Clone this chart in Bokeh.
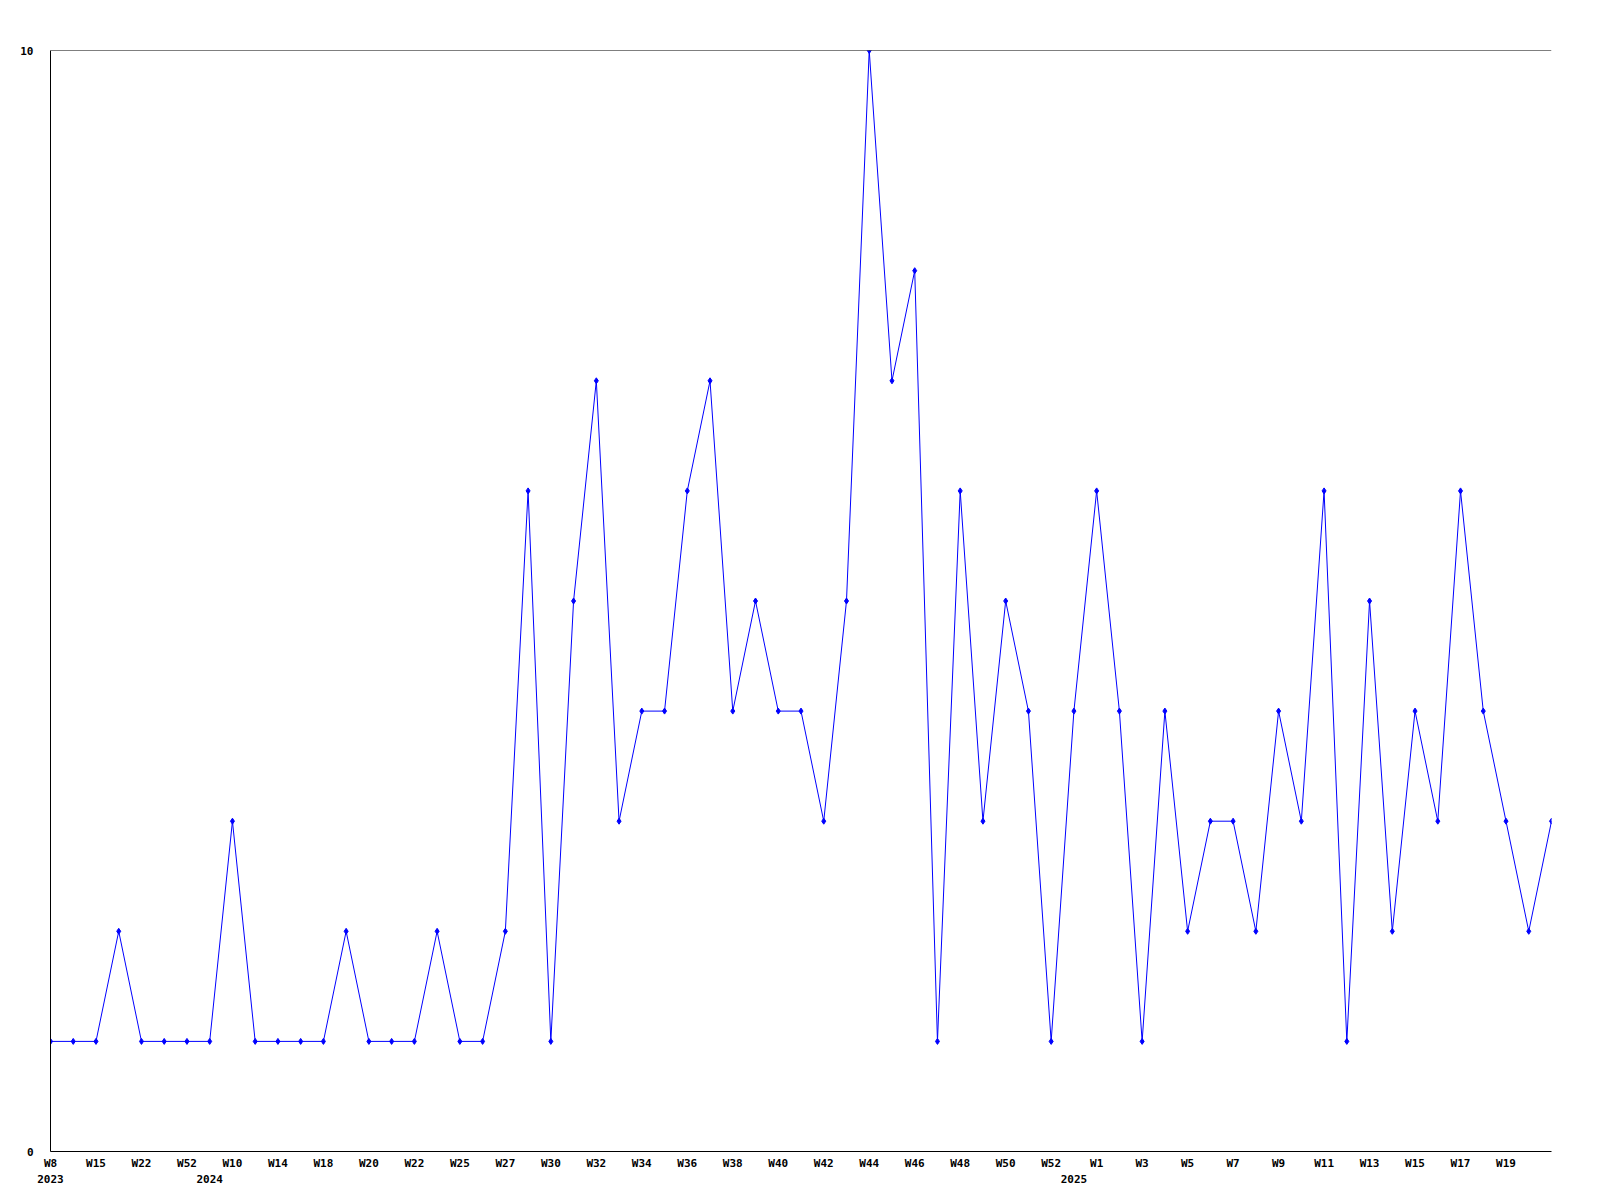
from bokeh.plotting import figure
from bokeh.models import FixedTicker, LinearAxis, Range1d, Span
from bokeh.embed import file_html
from bokeh.resources import INLINE

values = [1, 1, 1, 2, 1, 1, 1, 1, 3, 1, 1, 1, 1, 2, 1, 1, 1, 2, 1, 1,
          2, 6, 1, 5, 7, 3, 4, 4, 6, 7, 4, 5, 4, 4, 3, 5, 10, 7, 8, 1,
          6, 3, 5, 4, 1, 4, 6, 4, 1, 4, 2, 3, 3, 2, 4, 3, 6, 1, 5, 2,
          4, 3, 6, 4, 3, 2, 3]
week_labels = ["W8", "W15", "W22", "W52", "W10", "W14", "W18", "W20", "W22", "W25",
               "W27", "W30", "W32", "W34", "W36", "W38", "W40", "W42", "W44", "W46",
               "W48", "W50", "W52", "W1", "W3", "W5", "W7", "W9", "W11", "W13",
               "W15", "W17", "W19"]
week_label_idx = list(range(0, 66, 2))
year_labels = ["2023", "2024", "2025"]
year_idx = [0, 7, 45]
y_ticks = [0, 10]

x = list(range(len(values)))
FONT = "DejaVu Sans Mono"

p = figure(width=1592, height=1185, output_backend="svg", toolbar_location=None,
           x_range=Range1d(0, len(values) - 1), y_range=Range1d(0, 10),
           min_border_left=50, min_border_top=50, min_border_right=41, min_border_bottom=20)
p.outline_line_color = None
p.background_fill_color = "white"
p.border_fill_color = "white"

p.line(x, values, line_color="#0000ff", line_width=1)
p.scatter(x, values, marker="diamond", size=6, line_color="#0000ff", fill_color="#0000ff")

p.xgrid.visible = False
p.ygrid.visible = False
p.add_layout(Span(location=y_ticks[-1], dimension="width", line_color="black", line_width=1))

xa = p.xaxis[0]
xa.ticker = FixedTicker(ticks=week_label_idx)
xa.major_label_overrides = {i: l for i, l in zip(week_label_idx, week_labels)}
xa.major_tick_out = 0
xa.major_tick_in = 0
xa.minor_tick_out = 0
xa.minor_tick_in = 0
xa.axis_line_color = "black"
xa.major_label_standoff = 5
xa.major_label_text_font = FONT
xa.major_label_text_font_style = "bold"
xa.major_label_text_font_size = "11px"
xa.major_label_text_color = "black"

ya = p.yaxis[0]
ya.ticker = FixedTicker(ticks=y_ticks)
ya.major_tick_out = 0
ya.major_tick_in = 0
ya.minor_tick_out = 0
ya.minor_tick_in = 0
ya.axis_line_color = "black"
ya.major_label_standoff = 17
ya.major_label_text_align = "left"
ya.major_label_text_font = FONT
ya.major_label_text_font_style = "bold"
ya.major_label_text_font_size = "11px"
ya.major_label_text_color = "black"

ax2 = LinearAxis(ticker=FixedTicker(ticks=year_idx),
                 major_label_overrides={i: l for i, l in zip(year_idx, year_labels)})
ax2.axis_line_color = None
ax2.major_tick_out = 0
ax2.major_tick_in = 0
ax2.minor_tick_out = 0
ax2.minor_tick_in = 0
ax2.major_label_standoff = 2
ax2.major_label_text_font = FONT
ax2.major_label_text_font_style = "bold"
ax2.major_label_text_font_size = "11px"
ax2.major_label_text_color = "black"
p.add_layout(ax2, "below")

open("out.html", "w").write(file_html(p, INLINE))
